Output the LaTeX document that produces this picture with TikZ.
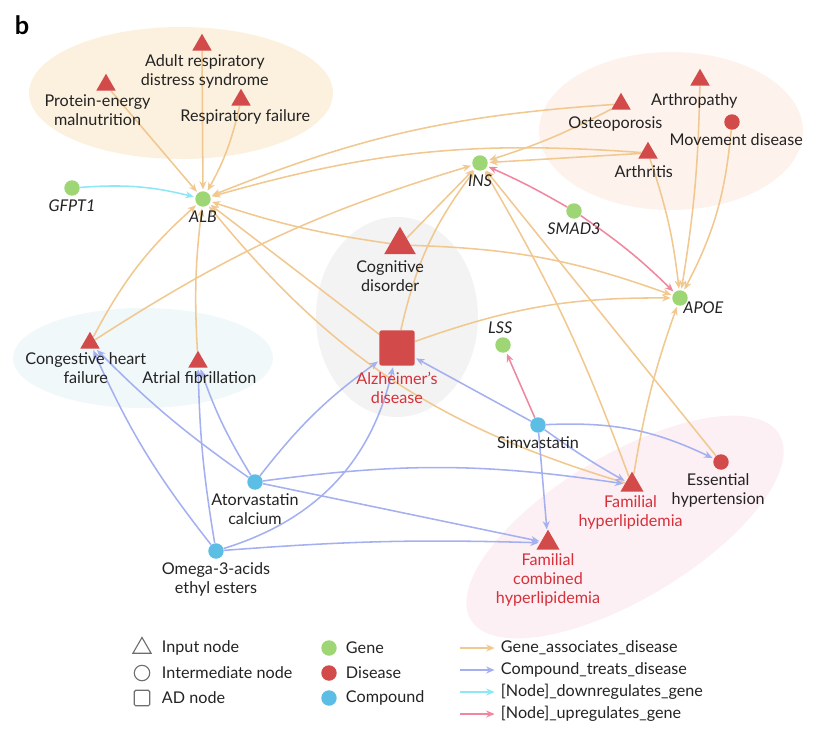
\documentclass[tikz,border=0pt]{standalone}
\usepackage{fontspec}
\setmainfont{Lato}
\usetikzlibrary{arrows.meta,positioning,shapes.geometric}

\definecolor{genecol}{RGB}{159,214,117}
\definecolor{discol}{RGB}{211,74,74}
\definecolor{cpdcol}{RGB}{92,190,228}
\definecolor{gadcol}{RGB}{240,200,144}
\definecolor{ctdcol}{RGB}{164,176,240}
\definecolor{downcol}{RGB}{140,232,245}
\definecolor{upcol}{RGB}{240,135,160}
\definecolor{adtext}{RGB}{214,48,58}
\definecolor{textgray}{RGB}{35,35,35}
\definecolor{leggray}{RGB}{110,110,110}
\definecolor{bgorange}{RGB}{252,240,222}
\definecolor{bgpeach}{RGB}{253,242,236}
\definecolor{bgblue}{RGB}{240,248,250}
\definecolor{bggray}{RGB}{243,243,243}
\definecolor{bgpink}{RGB}{253,240,244}

\pgfdeclarelayer{bg}
\pgfdeclarelayer{edges}
\pgfsetlayers{bg,edges,main}

\begin{document}
\begin{tikzpicture}[
    x=0.025cm, y=-0.025cm,
    every node/.style={font=\fontsize{11.5}{13.5}\selectfont, text=textgray},
    every label/.style={label distance=1.5pt},
    lbl/.style={align=center, inner sep=1pt},
    gene/.style={circle, fill=genecol, minimum size=11pt, inner sep=0pt},
    disease/.style={circle, fill=discol, minimum size=11pt, inner sep=0pt},
    compound/.style={circle, fill=cpdcol, minimum size=11pt, inner sep=0pt},
    tri/.style={regular polygon, regular polygon sides=3, fill=discol, minimum size=16pt, inner sep=0pt},
    adsq/.style={rectangle, rounded corners=1.5pt, fill=discol, minimum size=25pt, inner sep=0pt},
    gad/.style={-{Stealth[length=6pt,width=5pt]}, draw=gadcol, line width=1.1pt, shorten >=1pt},
    ctd/.style={gad, draw=ctdcol},
    down/.style={gad, draw=downcol},
    up/.style={gad, draw=upcol},
    keytri/.style={regular polygon, regular polygon sides=3, draw=leggray, line width=0.8pt, minimum size=15pt, inner sep=0pt},
    keycirc/.style={circle, draw=leggray, line width=0.8pt, minimum size=11pt, inner sep=0pt},
    keysq/.style={rectangle, rounded corners=1pt, draw=leggray, line width=0.8pt, minimum size=11pt, inner sep=0pt}
]
\useasboundingbox (0,0) rectangle (832,733);

% Background groups
\begin{pgfonlayer}{bg}
\fill[bgorange] (181,93) ellipse [x radius=152, y radius=66];
\fill[bgpeach] (671,131) ellipse [x radius=132, y radius=79];
\fill[bgblue] (143,358) ellipse [x radius=130, y radius=50];
\fill[bggray] (397,317) ellipse [x radius=81, y radius=100];
\fill[bgpink, rotate around={31:(625,527)}] (625,527) ellipse [x radius=180, y radius=72];
\end{pgfonlayer}

\node[font=\fontsize{18}{18}\selectfont\bfseries, text=black] (panel) at (22,25) {b};

% Diseases
\node[tri, label={[lbl, xshift=2pt]below:{Adult respiratory\\distress syndrome}}] (ards) at (202,45) {};
\node[tri, label={[lbl, xshift=-6pt]below:{Protein-energy\\malnutrition}}] (pem) at (106,85) {};
\node[tri, label={[lbl, xshift=3pt]below:{Respiratory failure}}] (rf) at (241,100) {};
\node[tri, label={[lbl, xshift=-4pt, yshift=-2pt]below:{Osteoporosis}}] (ost) at (621,104) {};
\node[tri, label={[lbl, xshift=-4pt, yshift=-3pt]below:{Arthropathy}}] (arthp) at (700,80) {};
\node[disease, label={[lbl, xshift=3pt]below:{Movement disease}}] (mov) at (732,122) {};
\node[tri, label={[lbl, xshift=-3pt, yshift=-2pt]below:{Arthritis}}] (arth) at (648,153) {};
\node[tri, minimum size=26pt, label={[lbl, xshift=-7pt, yshift=-2pt]below:{Cognitive\\disorder}}] (cog) at (400,245) {};
\node[adsq, label={[lbl, text=adtext, yshift=-2pt]below:{Alzheimer's\\disease}}] (ad) at (397,348) {};
\node[tri, label={[lbl, xshift=-3pt]below:{Congestive heart\\failure}}] (chf) at (90,343) {};
\node[tri, label={[lbl, xshift=1pt]below:{Atrial fibrillation}}] (af) at (198,362) {};
\node[disease, label={[lbl, xshift=-2pt]below:{Essential\\hypertension}}] (eh) at (721,462) {};
\node[tri, minimum size=19pt, label={[lbl, text=adtext, xshift=-1pt]below:{Familial\\hyperlipidemia}}] (fh) at (632,485) {};
\node[tri, minimum size=19pt, label={[lbl, text=adtext]below:{Familial\\combined\\hyperlipidemia}}] (fch) at (548,543) {};

% Genes
\node[gene, label={[lbl]below:\textit{GFPT1}}] (gfpt) at (72,188) {};
\node[gene, label={[lbl]below:\textit{ALB}}] (alb) at (203,199) {};
\node[gene, label={[lbl]below:\textit{INS}}] (ins) at (480,163) {};
\node[gene, label={[lbl]below:\textit{SMAD3}}] (smad) at (574,211) {};
\node[gene, label={[lbl, label distance=-4pt]below right:\textit{APOE}}] (apoe) at (680,298) {};
\node[gene, label={[lbl, xshift=-2pt]above:\textit{LSS}}] (lss) at (503,345) {};

% Compounds
\node[compound, label={[lbl]below:{Simvastatin}}] (sim) at (538,425) {};
\node[compound, label={[lbl]below:{Atorvastatin\\calcium}}] (ator) at (255,482) {};
\node[compound, label={[lbl]below:{Omega-3-acids\\ethyl esters}}] (omega) at (216,551) {};

\begin{pgfonlayer}{edges}
% Gene_associates_disease
\foreach \s/\t/\b in {pem/alb/0, ards/alb/0, rf/alb/8, ost/alb/-9, arth/alb/-10,
    ost/ins/5, arth/ins/0, chf/alb/10, chf/ins/8, af/alb/5, cog/alb/5, cog/ins/0,
    cog/apoe/9, ad/alb/0, ad/ins/12, ad/apoe/10, fh/alb/17, fh/ins/-5, eh/ins/0,
    arth/apoe/6, arthp/apoe/4, mov/apoe/11, fh/apoe/5}
  \draw[gad] (\s) to[bend left=\b] (\t);

% Compound_treats_disease
\foreach \s/\t/\b in {sim/ad/0, sim/eh/14, sim/fh/-3, sim/fch/0, ator/ad/8, ator/fh/8,
    ator/fch/0, ator/chf/5, ator/af/6, omega/chf/7, omega/af/4, omega/ad/-30, omega/fch/3}
  \draw[ctd] (\s) to[bend left=\b] (\t);

% Regulation
\draw[down] (gfpt) to[bend left=9] (alb);
\draw[up] (smad) to[bend left=-3] (ins);
\draw[up] (smad) to[bend left=5] (apoe);
\draw[up] (sim) to (lss);
\end{pgfonlayer}

% Legend
\foreach \i/\sty/\txt in {1/keytri/Input node, 2/keycirc/Intermediate node, 3/keysq/AD node} {
    \node[\sty] (shape\i) at (142, 623+25*\i) {};
    \node[anchor=west] (shapetxt\i) at (157, 623+25*\i) {\txt};
}
\foreach \i/\sty/\txt in {1/gene/Gene, 2/disease/Disease, 3/compound/Compound} {
    \node[\sty] (type\i) at (329, 623+25*\i) {};
    \node[anchor=west] (typetxt\i) at (341, 623+25*\i) {\txt};
}
\foreach \i/\sty/\txt in {1/gad/Gene\_associates\_disease, 2/ctd/Compound\_treats\_disease,
    3/down/{[Node]\_downregulates\_gene}, 4/up/{[Node]\_upregulates\_gene}} {
    \coordinate (edgekey\i) at (460, 626+22*\i);
    \node[anchor=west] (edgetxt\i) at (496, 626+22*\i) {\txt};
    \draw[\sty] (edgekey\i) -- (edgetxt\i.west);
}

\end{tikzpicture}
\end{document}
